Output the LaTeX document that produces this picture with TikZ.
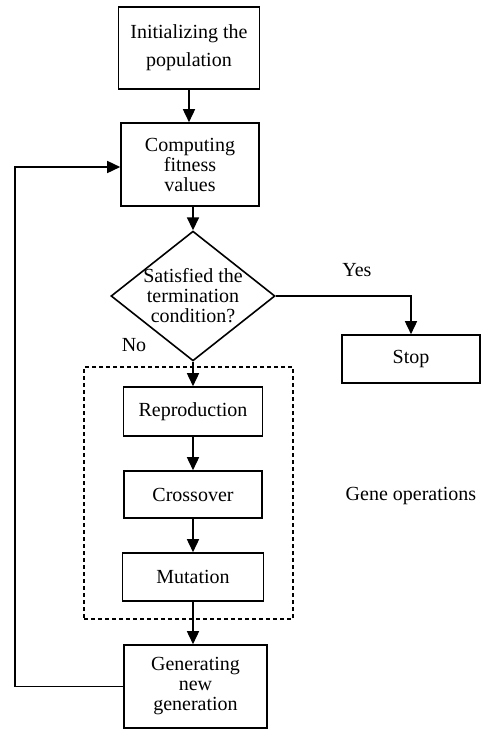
\documentclass[tikz,border=0pt]{standalone}
\usepackage{fontspec}
\setmainfont{Liberation Serif}
\usepackage{tikz}
\usetikzlibrary{arrows.meta, shapes.geometric, positioning, calc}
\tikzstyle{stepbox} = [rectangle, draw=black, line width=0.8pt, text centered, align=center, inner sep=1pt]
\tikzstyle{decision} = [diamond, draw=black, line width=0.8pt, align=center, inner sep=-3pt, minimum width=82pt, minimum height=57.5pt]
\tikzstyle{arrow} = [line width=0.8pt, -{Triangle[width=6pt,length=6.5pt]}]

\begin{document}
\begin{tikzpicture}[x=0.5pt, y=-0.5pt, font=\fontsize{10pt}{10pt}\selectfont]
    \useasboundingbox (0,0) rectangle (481,729);
    % main chain
    \node[stepbox, minimum width=70.5pt, minimum height=41pt, font=\fontsize{10pt}{14pt}\selectfont] (init) at (189,48) {Initializing the\\population};
    \node[stepbox, minimum width=69pt, minimum height=41.5pt] (fitness) at (190,164.5) {Computing\\fitness\\values};
    \node[decision] (check) at (193,296) {Satisfied the\\termination\\condition?};
    \node[stepbox, minimum width=69pt, minimum height=24pt] (stop) at (411,359) {Stop};
    % gene operations
    \node[draw=black, line width=0.6pt, dash pattern=on 2pt off 1.5pt, minimum width=104.5pt, minimum height=126pt] (geneops) at (188.5,493) {};
    \node[stepbox, minimum width=69.5pt, minimum height=24.5pt] (repro) at (193,411.5) {Reproduction};
    \node[stepbox, minimum width=69pt, minimum height=23.5pt] (cross) at (193,494.5) {Crossover};
    \node[stepbox, minimum width=70.5pt, minimum height=24pt] (mutate) at (193,577) {Mutation};
    \node (geneopslabel) at (411,496) {Gene operations};
    \node[stepbox, minimum width=71.5pt, minimum height=41.5pt] (gen) at (195.5,686.5) {Generating\\new\\generation};

    \draw[arrow] (init) -- (init |- fitness.north);
    \draw[arrow] (check.north |- fitness.south) -- (check.north);
    \draw[arrow] (check.east) -| node[pos=0.3, above=6pt] (yes) {Yes} (stop.north);
    \draw[arrow] (check.south) -- (repro.north);
    \node (no) at (134,345) {No};
    \draw[arrow] (repro) -- (cross);
    \draw[arrow] (cross) -- (mutate);
    \draw[arrow] (mutate.south) -- (mutate.south |- gen.north);
    \draw[arrow] (gen.west) -- ++(-108,0) |- ($(fitness.west)+(0,2.5)$);
\end{tikzpicture}
\end{document}
